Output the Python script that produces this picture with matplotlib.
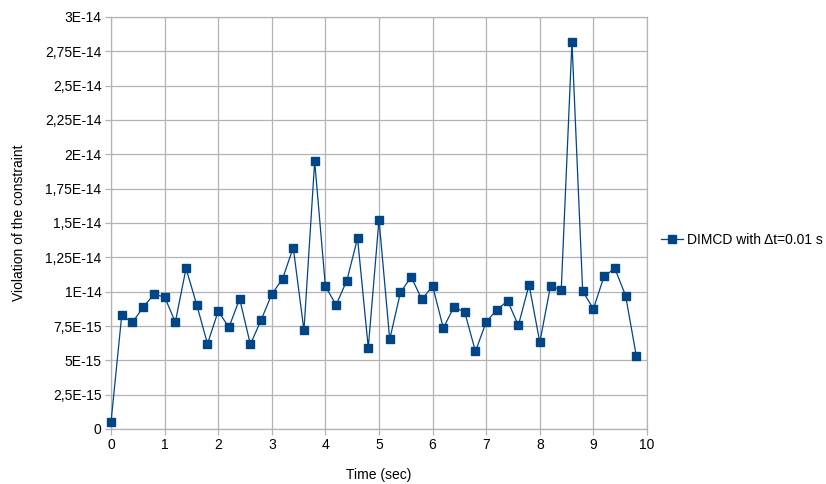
import matplotlib
matplotlib.use("Agg")
import matplotlib.pyplot as plt
import numpy as np

plt.rcParams['font.family'] = ['Liberation Sans', 'DejaVu Sans']

# Simulation time samples (s)
time_s = [0.0, 0.2, 0.4, 0.6, 0.8, 1.0, 1.2, 1.4, 1.6, 1.8,
          2.0, 2.2, 2.4, 2.6, 2.8, 3.0, 3.2, 3.4, 3.6, 3.8,
          4.0, 4.2, 4.4, 4.6, 4.8, 5.0, 5.2, 5.4, 5.6, 5.8,
          6.0, 6.2, 6.4, 6.6, 6.8, 7.0, 7.2, 7.4, 7.6, 7.8,
          8.0, 8.2, 8.4, 8.6, 8.8, 9.0, 9.2, 9.4, 9.6, 9.8]

# Constraint violation, in units of 1E-14
violation_e14 = [0.049, 0.827, 0.776, 0.887, 0.980, 0.962, 0.778, 1.169, 0.904, 0.620,
                 0.858, 0.740, 0.948, 0.616, 0.793, 0.982, 1.093, 1.321, 0.718, 1.949,
                 1.038, 0.904, 1.081, 1.389, 0.591, 1.525, 0.652, 0.994, 1.108, 0.943,
                 1.042, 0.735, 0.890, 0.849, 0.565, 0.780, 0.868, 0.933, 0.754, 1.050,
                 0.631, 1.042, 1.013, 2.820, 1.004, 0.875, 1.113, 1.169, 0.972, 0.533]

series_label = "DIMCD with \u0394t=0.01 s"

y_tick_values_e14 = [0, 0.25, 0.5, 0.75, 1.0, 1.25, 1.5, 1.75, 2.0, 2.25, 2.5, 2.75, 3.0]
y_tick_labels = ["0", "2,5E-15", "5E-15", "7,5E-15", "1E-14", "1,25E-14", "1,5E-14",
                 "1,75E-14", "2E-14", "2,25E-14", "2,5E-14", "2,75E-14", "3E-14"]
x_tick_values = list(range(0, 11))

violation = np.array(violation_e14) * 1e-14
y_ticks = np.array(y_tick_values_e14) * 1e-14

fig = plt.figure(figsize=(8.26, 4.84), dpi=100)
ax = fig.add_axes([111 / 826, 1 - 429 / 484, (647 - 111) / 826, (429 - 17) / 484])

line_color = "#004586"
grid_color = "#b3b3b3"
fs = 10

ax.plot(time_s, violation, color=line_color, linewidth=0.9, marker='s',
        markersize=6.3, markerfacecolor=line_color, markeredgecolor=line_color,
        label=series_label, zorder=3, clip_on=False)

ax.set_xlim(0, 10)
ax.set_ylim(0, 3e-14)
ax.set_xticks(x_tick_values)
ax.set_xticklabels([str(v) for v in x_tick_values])
ax.set_yticks(y_ticks)
ax.set_yticklabels(y_tick_labels)

ax.grid(True, color=grid_color, linewidth=0.9)
ax.set_axisbelow(True)
for side in ax.spines.values():
    side.set_color(grid_color)
    side.set_linewidth(0.9)

ax.tick_params(axis='both', direction='out', length=4.3, width=0.9, color=grid_color,
               labelsize=fs, labelcolor='#000000', pad=2.5)

ax.set_xlabel("Time (sec)", fontsize=fs, labelpad=11)
ax.set_ylabel("Violation of the constraint", fontsize=fs, labelpad=14)

leg = ax.legend(loc='center left', bbox_to_anchor=(1.0, 0.459), frameon=False,
                fontsize=fs, handlelength=1.6, handletextpad=0.3, borderaxespad=0.6)

fig.savefig("out.png", dpi=100)
